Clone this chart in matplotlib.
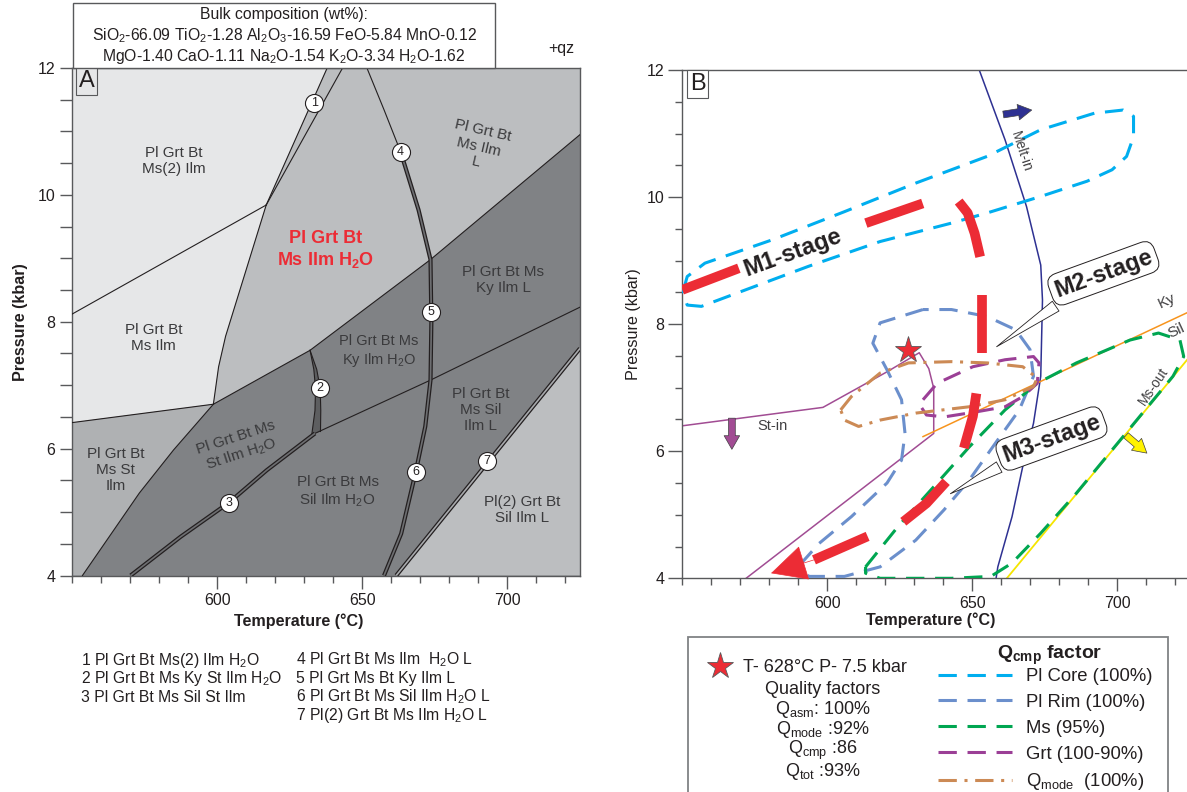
import matplotlib
matplotlib.use("Agg")
import matplotlib.pyplot as plt
from matplotlib.patches import Rectangle
from matplotlib.lines import Line2D
from matplotlib.ticker import MultipleLocator, FixedLocator

plt.rcParams['font.family'] = ['Liberation Sans', 'DejaVu Sans']
plt.rcParams['mathtext.fontset'] = 'custom'
plt.rcParams['mathtext.rm'] = 'Liberation Sans'
plt.rcParams['mathtext.it'] = 'Liberation Sans'
plt.rcParams['mathtext.bf'] = 'Liberation Sans:bold'

W, H = 1187, 792
TXT = '#231f20'
SPINE = '#58595b'
LIGHT, MED, STC, DARK, SLIV = '#e6e7e8', '#bcbec0', '#afb1b3', '#808285', '#5d5e60'
RED = '#ec2c35'

# ---------------- panel A: pseudosection boundaries (T degC, P kbar) ----------------
l1a_T = [637.9, 616.9]; l1a_P = [12.0, 9.84]
l1b_T = [643.2, 616.9]; l1b_P = [12.0, 9.84]
ms2_T = [550.0, 616.9]; ms2_P = [8.12, 9.84]
cl_T = [616.9, 610.0, 602.9, 600.5, 598.7]; cl_P = [9.84, 8.82, 7.77, 7.29, 6.70]
sttop_T = [550.0, 598.7]; sttop_P = [6.41, 6.70]
st_T = [598.7, 585.0, 573.2, 553.6]; st_P = [6.70, 5.98, 5.30, 4.0]
md_T = [598.7, 632.0, 673.5, 725.0]; md_P = [6.70, 7.55, 8.98, 10.95]
kysil_T = [633.7, 673.5, 725.0]; kysil_P = [6.24, 7.08, 8.23]
l2a_T = [632.0, 633.3, 633.9, 633.7, 632.6]; l2a_P = [7.55, 7.25, 6.95, 6.60, 6.22]
l2b_T = [632.0, 634.3, 635.5, 635.7, 635.6]; l2b_P = [7.55, 7.25, 6.95, 6.60, 6.27]
l3_T = [633.7, 617.1, 604.1, 587.4, 570.2]; l3_P = [6.24, 5.66, 5.15, 4.61, 4.0]
l4_T = [651.6, 657.5, 663.2]; l4_P = [12.0, 11.34, 10.68]
l56_T = [663.2, 669.4, 673.5, 673.8, 673.5, 671.7, 668.4, 663.4, 657.5]
l56_P = [10.68, 9.76, 8.98, 8.0, 7.08, 6.35, 5.63, 4.66, 4.0]
l7_T = [661.7, 725.0]; l7_P = [4.0, 7.58]

circ_T = [633.4, 635.5, 604.1, 663.2, 673.5, 668.4, 692.9]
circ_P = [11.45, 6.95, 5.15, 10.68, 8.16, 5.63, 5.81]
circ_lab = ['1', '2', '3', '4', '5', '6', '7']

fieldA = [
    ('Pl Grt Bt\nMs(2) Ilm', 585.0, 10.53, 11, 0),
    ('Pl Grt Bt\nMs Ilm', 578.2, 7.74, 11, 0),
    ('Pl Grt Bt\nMs Ilm\nL', 690.2, 10.76, 11, -13),
    ('Pl Grt Bt Ms\nKy Ilm L', 698.5, 8.66, 11, 0),
    ('Pl Grt Bt Ms\nKy Ilm H$_2$O', 655.7, 7.53, 10.5, 0),
    ('Pl Grt Bt Ms\nSt Ilm H$_2$O', 607.6, 6.03, 11, 18),
    ('Pl Grt Bt\nMs St\nIlm', 564.9, 5.66, 11, 0),
    ('Pl Grt Bt\nMs Sil\nIlm L', 690.8, 6.61, 11, 0),
    ('Pl Grt Bt Ms\nSil Ilm H$_2$O', 641.5, 5.32, 11, 0),
    ('Pl(2) Grt Bt\nSil Ilm L', 705.0, 5.03, 11, 0),
]

keyA_left = ['1 Pl Grt Bt Ms(2) Ilm H$_2$O', '2 Pl Grt Bt Ms Ky St Ilm H$_2$O',
             '3 Pl Grt Bt Ms Sil St Ilm']
keyA_right = ['4 Pl Grt Bt Ms Ilm  H$_2$O L', '5 Pl Grt Ms Bt Ky Ilm L',
              '6 Pl Grt Bt Ms Sil Ilm H$_2$O L', '7 Pl(2) Grt Bt Ms Ilm H$_2$O L']

# ---------------- panel B ----------------
melt_T = [652.4, 661.3, 668.7, 673.6, 674.2, 673.6, 671.1, 667.4, 663.7, 658.8, 658.2]
melt_P = [12.0, 10.90, 9.85, 8.93, 8.38, 7.18, 6.44, 5.76, 4.97, 4.18, 4.0]
stin_T = [550.0, 598.5, 620.6, 631.7, 635.0, 636.7, 636.7, 572.0]
stin_P = [6.40, 6.69, 7.25, 7.55, 7.30, 6.99, 6.28, 4.0]
kysilB_T = [633.0, 725.0]; kysilB_P = [6.23, 8.20]
msout_T = [661.9, 725.0]; msout_P = [4.0, 7.49]

core_T = [550.4, 551.7, 557.8, 581.2, 605.9, 630.5, 655.1, 673.6, 692.1, 702.0, 705.6, 705.6,
          703.2, 698.2, 689.6, 673.6, 655.1, 642.8, 618.2, 593.5, 568.9, 556.6, 551.7, 550.2]
core_P = [8.54, 8.75, 8.96, 9.33, 9.77, 10.22, 10.64, 11.06, 11.32, 11.37, 11.27, 10.95,
          10.64, 10.43, 10.25, 10.01, 9.75, 9.59, 9.30, 8.91, 8.49, 8.28, 8.30, 8.49]
rim_T = [633.0, 618.2, 615.7, 620.6, 625.6, 626.8, 625.6, 620.6, 608.3, 597.2, 591.1, 593.5,
         605.9, 618.2, 630.5, 640.3, 649.0, 658.8, 666.2, 671.1, 669.9, 665.0, 655.1, 642.8]
rim_P = [8.23, 8.02, 7.70, 7.28, 6.81, 6.28, 5.86, 5.50, 4.97, 4.55, 4.24, 4.03,
         4.03, 4.18, 4.60, 5.08, 5.55, 6.18, 6.65, 7.18, 7.60, 7.91, 8.12, 8.23]
ms_T = [613.2, 624.3, 636.7, 649.0, 661.3, 672.4, 685.9, 704.4, 714.2, 721.6, 722.9,
        719.2, 710.5, 698.2, 685.9, 673.6, 663.7, 656.4, 642.8, 618.2, 613.2]
ms_P = [4.18, 4.81, 5.44, 6.07, 6.65, 7.07, 7.39, 7.75, 7.86, 7.75, 7.49,
        7.18, 6.70, 6.02, 5.34, 4.71, 4.24, 4.03, 4.0, 4.0, 4.08]
grt_T = [633.0, 637.9, 650.2, 661.3, 671.1, 673.0, 672.4, 667.4, 661.3, 651.4, 640.3, 634.2, 632.3]
grt_P = [6.81, 7.07, 7.33, 7.44, 7.49, 7.39, 7.07, 6.86, 6.70, 6.62, 6.54, 6.57, 6.70]
qm_T = [604.6, 608.3, 618.2, 628.0, 642.8, 655.1, 667.4, 672.4, 671.1, 661.3, 649.0, 630.5, 618.2, 610.8, 605.9]
qm_P = [6.65, 6.86, 7.23, 7.39, 7.41, 7.39, 7.33, 7.15, 7.02, 6.81, 6.70, 6.60, 6.49, 6.39, 6.49]

red_segs = [
    ([550.0, 569.5], [8.54, 8.88]),
    ([613.3, 632.9], [9.59, 9.90]),
    ([645.3, 648.4, 650.8, 652.7], [9.93, 9.75, 9.43, 9.06]),
    ([653.3, 653.3], [8.46, 7.54]),
    ([651.4, 650.2, 647.1], [6.91, 6.55, 6.05]),
    ([641.0, 634.2, 626.2], [5.52, 5.18, 4.89]),
    ([613.9, 595.4], [4.66, 4.29]),
]
red_tip = (580.6, 4.08)
star_T, star_P = 628.0, 7.6

loops = [
    (core_T, core_P, '#00aeef', (0, (6, 3.5)), 'Pl Core (100%)'),
    (rim_T, rim_P, '#6b8fcc', (0, (6, 3.5)), 'Pl Rim (100%)'),
    (ms_T, ms_P, '#00a651', (0, (6, 3.5)), 'Ms (95%)'),
    (grt_T, grt_P, '#9b3f96', (0, (6, 3.5)), 'Grt (100-90%)'),
    (qm_T, qm_P, '#cc8a55', (0, (6, 2.5, 1, 2.5)), r'Q$_{mode}$  (100%)'),
]

fig = plt.figure(figsize=(W / 100, H / 100), dpi=100)


def fx(px):
    return px / W


def fy(py):
    return 1 - py / H


def style_axes(ax, ylen_major, ylen_minor):
    ax.set_xlim(550, 725)
    ax.set_ylim(4, 12)
    ax.xaxis.set_major_locator(FixedLocator([600, 650, 700]))
    ax.xaxis.set_minor_locator(MultipleLocator(10))
    ax.yaxis.set_major_locator(MultipleLocator(2))
    ax.yaxis.set_minor_locator(MultipleLocator(0.5))
    ax.tick_params(axis='x', which='major', direction='out', length=9.5, width=1,
                   color=SPINE, labelsize=11.5, labelcolor=TXT, pad=3)
    ax.tick_params(axis='x', which='minor', direction='out', length=5, width=1, color=SPINE)
    ax.tick_params(axis='y', which='major', direction='out', length=ylen_major, width=1,
                   color=SPINE, labelsize=11.5, labelcolor=TXT, pad=3)
    ax.tick_params(axis='y', which='minor', direction='out', length=ylen_minor, width=1, color=SPINE)
    for s in ax.spines.values():
        s.set_color(SPINE)
        s.set_linewidth(1)


# ================= Panel A =================
axA = fig.add_axes([fx(72), fy(575.5), 508 / W, 507.5 / H])
style_axes(axA, 9, 9)
axA.set_facecolor(DARK)

axA.fill([550, 637.9] + cl_T + [550], [12, 12] + cl_P + [6.41], color=LIGHT, lw=0, zorder=1)
axA.fill([637.9, 725] + md_T[::-1] + cl_T[::-1][1:], [12, 12] + md_P[::-1] + cl_P[::-1][1:],
         color=MED, lw=0, zorder=1)
axA.fill([550] + st_T + [550], [6.41] + st_P + [4], color=STC, lw=0, zorder=1)
axA.fill([l7_T[0], l7_T[1], 725], [4, l7_P[1], 4], color=MED, lw=0, zorder=1)
axA.fill(l2a_T + l2b_T[::-1], l2a_P + l2b_P[::-1], color=SLIV, lw=0, zorder=2)

for T, P in [(l1a_T, l1a_P), (l1b_T, l1b_P), (ms2_T, ms2_P), (cl_T, cl_P), (sttop_T, sttop_P),
             (st_T, st_P), (md_T, md_P), (kysil_T, kysil_P), (l4_T, l4_P), (l2a_T, l2a_P),
             (l2b_T, l2b_P)]:
    axA.plot(T, P, color=TXT, lw=0.8, zorder=3)

for T, P, inner in [(l3_T, l3_P, '#6d6e71'), (l56_T, l56_P, '#6d6e71'), (l7_T, l7_P, '#a7a9ac')]:
    axA.plot(T, P, color=TXT, lw=3.0, zorder=3, solid_capstyle='butt')
    axA.plot(T, P, color=inner, lw=1.2, zorder=3, solid_capstyle='butt')

axA.plot(circ_T, circ_P, 'o', ms=13, mfc='white', mec=TXT, mew=0.8, zorder=5)
for t, T, P in zip(circ_lab, circ_T, circ_P):
    axA.text(T, P, t, ha='center', va='center', fontsize=9, color=TXT, zorder=6)

for lab, T, P, fs, rot in fieldA:
    axA.text(T, P, lab, ha='center', va='center', fontsize=fs, rotation=rot,
             color='#3a3a3c', linespacing=1.2, zorder=4)
axA.text(637.3, 9.13, 'Pl Grt Bt\nMs Ilm H$_\\mathbf{2}$O', ha='center', va='center',
         fontsize=13, fontweight='bold', color=RED, linespacing=1.15, zorder=4)

axA.text(0.029, 0.975, 'A', transform=axA.transAxes, ha='center', va='center', fontsize=17,
         color=TXT, zorder=7,
         bbox=dict(boxstyle='square,pad=0.12', fc=LIGHT, ec=SPINE, lw=0.8))

axA.set_xlabel('Temperature (°C)', fontsize=11.6, fontweight='bold', color=TXT)
axA.xaxis.set_label_coords(0.446, -0.075)
axA.set_ylabel('Pressure (kbar)', fontsize=11.6, fontweight='bold', color=TXT, labelpad=7)

# composition box
fig.add_artist(Rectangle((fx(72.7), fy(68)), 422 / W, 65 / H, transform=fig.transFigure,
                         fc='white', ec=SPINE, lw=1))
fig.text(fx(284), fy(15), 'Bulk composition (wt%):', ha='center', va='center', fontsize=11.3, color=TXT)
fig.text(fx(284), fy(36), r'SiO$_2$-66.09 TiO$_2$-1.28 Al$_2$O$_3$-16.59 FeO-5.84 MnO-0.12',
         ha='center', va='center', fontsize=11.3, color=TXT)
fig.text(fx(284), fy(57), r'MgO-1.40 CaO-1.11 Na$_2$O-1.54 K$_2$O-3.34 H$_2$O-1.62',
         ha='center', va='center', fontsize=11.3, color=TXT)
fig.text(fx(561), fy(49), '+qz', ha='center', va='center', fontsize=11.5, color=TXT)

for i, s in enumerate(keyA_left):
    fig.text(fx(81), fy(660 + 18.5 * i), s, ha='left', va='center', fontsize=11.3, color=TXT)
for i, s in enumerate(keyA_right):
    fig.text(fx(296), fy(660 + 18.5 * i), s, ha='left', va='center', fontsize=11.3, color=TXT)

# ================= Panel B =================
axB = fig.add_axes([fx(682.3), fy(578.3), 507.5 / W, 508.3 / H])
style_axes(axB, 10, 5)
axB.spines['right'].set_visible(False)

axB.plot(melt_T, melt_P, color='#2e3192', lw=1.1, zorder=2)
axB.plot(stin_T, stin_P, color='#a14c93', lw=1.1, zorder=2)
axB.plot(kysilB_T, kysilB_P, color='#f7941d', lw=1.1, zorder=2)
axB.plot(msout_T, msout_P, color='#f5e500', lw=1.3, zorder=2)

handles = []
for T, P, c, ls, lab in loops:
    ln, = axB.plot(T + [T[0]], P + [P[0]], color=c, lw=2.2, ls=ls, label=lab, zorder=3)
    handles.append(ln)

for T, P in red_segs:
    axB.plot(T, P, color=RED, lw=7, solid_capstyle='butt', zorder=4)
axB.annotate('', xy=red_tip, xytext=(red_segs[-1][0][-1], red_segs[-1][1][-1]),
             arrowprops=dict(arrowstyle='-|>,head_length=1.2,head_width=0.6', mutation_scale=20,
                             fc=RED, ec=RED, lw=0.5, shrinkA=0, shrinkB=0), zorder=4)

axB.plot([star_T], [star_P], marker='*', ms=20, color=RED, mec='#58595b', mew=0.6, zorder=6)

# small field arrows
for xy0, xy1, col in [((660.7, 11.30), (670.5, 11.37), '#2e3192'),
                      ((567.1, 6.52), (567.1, 6.03), '#a14c93'),
                      ((703.0, 6.25), (710.2, 5.97), '#fff200')]:
    axB.annotate('', xy=xy1, xytext=xy0,
                 arrowprops=dict(arrowstyle='simple,head_length=0.7,head_width=0.8,tail_width=0.35',
                                 mutation_scale=14, fc=col, ec='#414042', lw=0.5,
                                 shrinkA=0, shrinkB=0), zorder=5)

axB.text(666.8, 10.72, 'Melt-in', rotation=-72, ha='center', va='center', fontsize=10, color='#414042')
axB.text(581.2, 6.40, 'St-in', ha='center', va='center', fontsize=10.5, color='#414042')
axB.text(717.0, 8.36, 'Ky', rotation=25, ha='center', va='center', fontsize=11, color='#414042')
axB.text(720.2, 7.90, 'Sil', rotation=25, ha='center', va='center', fontsize=11, color='#414042')
axB.text(712.6, 7.02, 'Ms-out', rotation=56, ha='center', va='center', fontsize=10, color='#414042')

axB.text(588.0, 9.12, 'M1-stage', rotation=20, ha='center', va='center', fontsize=17,
         fontweight='bold', color=TXT, zorder=6)
box = dict(boxstyle='round,pad=0.2,rounding_size=0.45', fc='white', ec=TXT, lw=0.7)
axB.annotate('M2-stage', xy=(657.6, 7.62), xytext=(695.2, 8.80), rotation=20, ha='center',
             va='center', fontsize=17, fontweight='bold', color=TXT, bbox=box, zorder=7,
             arrowprops=dict(arrowstyle='wedge,tail_width=0.5', fc='white', ec=TXT, lw=0.6))
axB.annotate('M3-stage', xy=(641.6, 5.31), xytext=(677.3, 6.20), rotation=20, ha='center',
             va='center', fontsize=17, fontweight='bold', color=TXT, bbox=box, zorder=7,
             arrowprops=dict(arrowstyle='wedge,tail_width=0.5', fc='white', ec=TXT, lw=0.6))

axB.text(0.03, 0.973, 'B', transform=axB.transAxes, ha='center', va='center', fontsize=17,
         color=TXT, zorder=7,
         bbox=dict(boxstyle='square,pad=0.12', fc='white', ec=SPINE, lw=0.8))

axB.set_xlabel('Temperature (°C)', fontsize=11.6, fontweight='bold', color=TXT)
axB.xaxis.set_label_coords(0.49, -0.068)
axB.set_ylabel('Pressure (kbar)', fontsize=11.6, color=TXT, labelpad=4)

# ---------- legend panel under B ----------
fig.add_artist(Rectangle((fx(688), -0.01), 480 / W, (H - 637) / H + 0.01, transform=fig.transFigure,
                         fill=False, ec='#808285', lw=1.3))
fig.add_artist(Line2D([fx(720)], [fy(666)], marker='*', ms=20, color=RED, mec='#58595b', mew=0.6,
                      transform=fig.transFigure))
fig.text(fx(743), fy(667), 'T- 628°C P- 7.5 kbar', ha='left', va='center', fontsize=13, color=TXT)
for i, s in enumerate(['Quality factors', r'Q$_{asm}$: 100%', r'Q$_{mode}$ :92%',
                       r'Q$_{cmp}$ :86', r'Q$_{tot}$ :93%']):
    fig.text(fx(823), fy(689 + 20.5 * i), s, ha='center', va='center', fontsize=13, color=TXT)

fig.text(fx(1050), fy(655), r'$\mathbf{Q_{cmp}}$ factor', ha='center', va='center',
         fontsize=14, fontweight='bold', color=TXT)
leg = fig.legend(handles=handles, loc='upper left', bbox_to_anchor=(fx(938), fy(668)),
                 frameon=False, fontsize=13.3, handlelength=4.0, handletextpad=0.75,
                 labelspacing=0.48, borderpad=0, borderaxespad=0)
for t in leg.get_texts():
    t.set_color(TXT)

fig.savefig('out.png', dpi=100)
